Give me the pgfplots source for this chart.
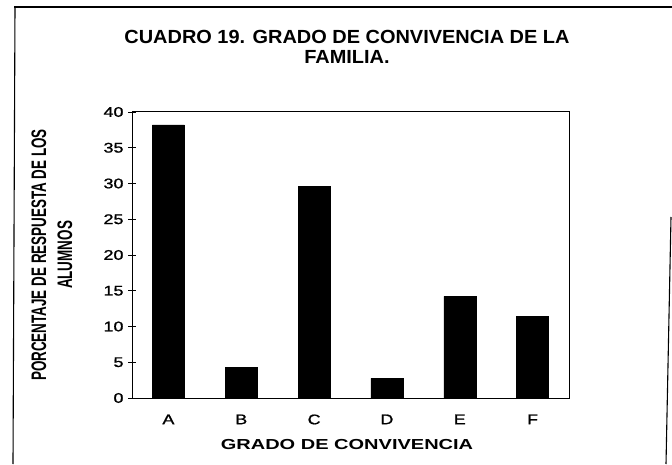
\documentclass[border=0pt]{standalone}
\usepackage{pgfplots}
\pgfplotsset{compat=1.18}
\usepackage{fontspec}
\setmainfont{Liberation Sans}
\newfontfamily\titlefont[FakeStretch=1.05]{Liberation Sans}
\newfontfamily\tickfontfam[FakeStretch=1.28,FakeBold=1.2]{Liberation Sans}
\newfontfamily\xlabfontfam[FakeStretch=1.38]{Liberation Sans}
\newfontfamily\ylabfontfam[FakeStretch=0.64]{Liberation Sans}
\begin{document}
\begin{tikzpicture}[x=1pt,y=1pt]
\useasboundingbox (0,0) rectangle (672,464);
% outer frame
\draw[line width=1.1pt] (14,457) -- (672,457);
\draw[line width=1.1pt] (15,457) -- (13,0);
\draw[line width=1.1pt] (671,247) -- (666,0);
\begin{axis}[
  at={(132pt,66pt)}, anchor=south west,
  scale only axis, width=437pt, height=286pt,
  xmin=-0.5, xmax=5.5, ymin=0, ymax=40,
  ytick={0,5,...,40},
  xtick={0,...,5},
  xticklabels={A,B,C,D,E,F},
  extra x ticks={0.5,1.5,2.5,3.5,4.5},
  extra x tick labels={},
  extra x tick style={major tick length=8pt, tick align=center, tick style={black, line width=0.9pt}},
  x tick style={draw=none},
  tick pos=left,
  major tick length=8pt, tick align=center,
  y tick style={black, line width=0.9pt},
  axis line style={line width=1pt},
  /pgf/number format/assume math mode=true,
  tick label style={font=\fontsize{14}{16}\tickfontfam},
  yticklabel style={xshift=-1pt},
  xticklabel style={yshift=-5pt},
  ybar, bar width=32pt,
]
\addplot[fill=black, draw=black] coordinates {(0,38.2) (1,4.3) (2,29.6) (3,2.75) (4,14.2) (5,11.4)};
\end{axis}
\node[align=center, font=\fontsize{19}{20}\titlefont\bfseries] at (347,417) {CUADRO 19. GRADO DE CONVIVENCIA DE LA\\FAMILIA.};
\node[font=\fontsize{14.5}{16}\xlabfontfam\bfseries] at (347,19) {GRADO DE CONVIVENCIA};
\node[rotate=90, align=center, font=\fontsize{21}{26}\ylabfontfam\bfseries] at (52,209) {PORCENTAJE DE RESPUESTA DE LOS\\ALUMNOS};
\end{tikzpicture}
\end{document}
